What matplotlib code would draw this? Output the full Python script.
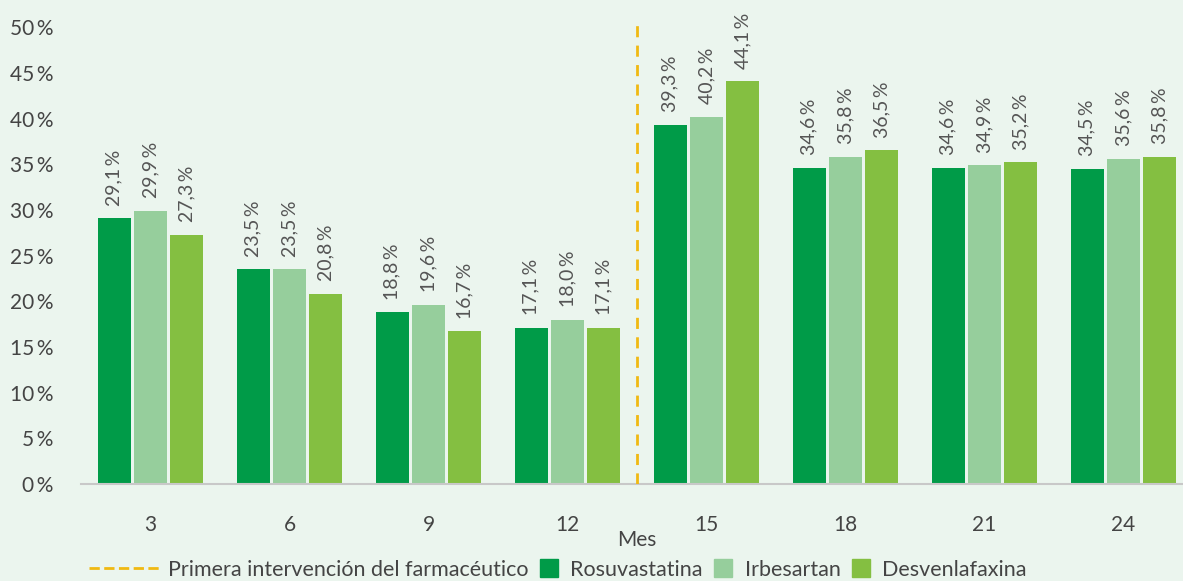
import matplotlib
matplotlib.use("Agg")
import matplotlib.pyplot as plt
import numpy as np
from matplotlib.lines import Line2D
from matplotlib.legend_handler import HandlerLine2D

months = ["3", "6", "9", "12", "15", "18", "21", "24"]
rosuvastatina = [29.1, 23.5, 18.8, 17.1, 39.3, 34.6, 34.6, 34.5]
irbesartan = [29.9, 23.5, 19.6, 18.0, 40.2, 35.8, 34.9, 35.6]
desvenlafaxina = [27.3, 20.8, 16.7, 17.1, 44.1, 36.5, 35.2, 35.8]
series_names = ["Rosuvastatina", "Irbesartan", "Desvenlafaxina"]
yticks = [0, 5, 10, 15, 20, 25, 30, 35, 40, 45, 50]
intervention_pos = 3.5

colors = ["#009B48", "#96CE9C", "#84BF41"]
bg = "#EBF5EE"
txt = "#444444"
fam = ["Lato", "DejaVu Sans"]
plt.rcParams["font.family"] = fam


class LongLine(HandlerLine2D):
    def create_artists(self, legend, orig_handle, xdescent, ydescent, width, height, fontsize, trans):
        y = height / 2 - ydescent
        ln = Line2D([-width * 1.7, width], [y, y], color=orig_handle.get_color(),
                    linestyle=orig_handle.get_linestyle(), lw=orig_handle.get_linewidth())
        ln.set_transform(trans)
        return [ln]


fig = plt.figure(figsize=(11.83, 5.81), dpi=100, facecolor=bg)
ax = fig.add_axes([81/1183, 97/581, 1112/1183, 466/581])
ax.set_facecolor(bg)

x = np.arange(len(months))
w = 0.24
offs = [-0.26, 0, 0.26]
for vals, off, c in zip([rosuvastatina, irbesartan, desvenlafaxina], offs, colors):
    ax.bar(x + off, vals, width=w, color=c, zorder=2)
    for xi, v in zip(x, vals):
        ax.annotate(f"{v:.1f}".replace(".", ",") + "\u2009%", (xi + off, v),
                    xytext=(0, 9), textcoords="offset points", rotation=90,
                    ha="center", va="bottom", fontsize=14, color="#555555")

ax.axvline(intervention_pos, color="#F0B912", linestyle=(0, (4, 3)), lw=2, zorder=3)

ax.set_xlim(-0.5, 7.5)
ax.set_ylim(0, 51)
ax.set_yticks(yticks)
ax.set_yticklabels([f"{t}\u2009%" for t in yticks], fontsize=15, color=txt)
ax.set_xticks(x)
ax.set_xticklabels(months, fontsize=15, color=txt)
ax.tick_params(axis="both", length=0)
ax.tick_params(axis="x", pad=22)
ax.tick_params(axis="y", pad=20)
for s in ["top", "right", "left"]:
    ax.spines[s].set_visible(False)
ax.spines["bottom"].set_color("#C8C8C8")
ax.spines["bottom"].set_linewidth(1.5)
ax.set_xlabel("Mes", fontsize=15, color=txt, labelpad=-3)

handles = [Line2D([0], [0], color="#F0B912", linestyle=(0, (3, 2)), lw=2)] + \
          [Line2D([0], [0], marker="s", markersize=13, linestyle="none",
                  markerfacecolor=c, markeredgecolor=c) for c in colors]
labels = ["Primera intervención del farmacéutico"] + series_names
leg = fig.legend(handles, labels, loc="center", bbox_to_anchor=(580/1183, 1 - 570/581),
                 ncol=4, frameon=False, fontsize=15.5, handlelength=1.2,
                 handletextpad=0.4, columnspacing=0.35, borderaxespad=0,
                 handler_map={handles[0]: LongLine()})
for t in leg.get_texts():
    t.set_color(txt)

fig.savefig("out.png", dpi=100, facecolor=bg)
